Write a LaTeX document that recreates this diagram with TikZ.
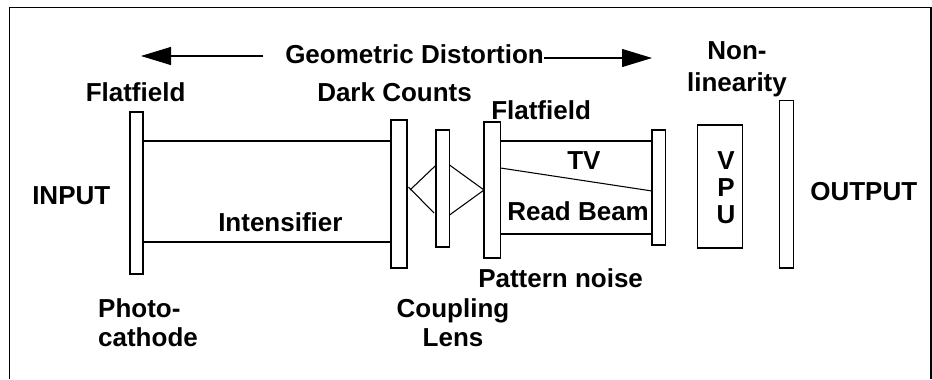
\documentclass[tikz,border=0pt]{standalone}
\usepackage{fontspec}
\setmainfont{Liberation Sans}
\usetikzlibrary{positioning, arrows.meta}
\tikzset{
  plate/.style={draw, line width=1.1pt, outer sep=0pt, inner sep=0pt, minimum width=#1},
  label/.style={font=\bfseries\fontsize{19.5}{21.75}\selectfont, inner sep=0pt, anchor=base west},
  stack/.style={font=\bfseries\fontsize{19.5}{21.75}\selectfont, inner sep=0pt, align=center},
  wall/.style={line width=1.1pt},
  ray/.style={line width=0.8pt},
  bigarrow/.style={line width=0.8pt, -{Triangle[length=22.5pt, width=13.5pt]}}
}
\begin{document}
\begin{tikzpicture}[x=0.75pt, y=-0.75pt]
\useasboundingbox (0,0) rectangle (932,379);
\draw[line width=0.9pt] (9.5,379) -- (9.5,7.5) -- (931,7.5) -- (931,379);
% plates, left to right
\node(cathode)[plate=10pt, minimum height=121.5pt] at (136.5,193){};
\node(dark)[plate=12pt, minimum height=111pt, right = 186pt of cathode, yshift=-0.75pt]{};
\node(lens)[plate=10pt, minimum height=87.75pt, right = 21.75pt of dark, yshift=4.1pt]{};
\node(flat)[plate=12.4pt, minimum height=102pt, right = 25.9pt of lens, yshift=-1.1pt]{};
\node(tvend)[plate=10pt, minimum height=86.25pt, right = 113.6pt of flat, yshift=1.9pt]{};
\node(vpu)[plate=34pt, minimum height=92.25pt, right = 24pt of tvend, yshift=0.75pt]{};
\node(output)[plate=10.4pt, minimum height=125.6pt, right = 27.75pt of vpu, yshift=1.7pt]{};
% tube walls
\coordinate(wallup) at (0,141);
\coordinate(walldown) at (0,242);
\coordinate(tvdown) at (0,234);
\draw[wall] (cathode.east |- wallup) -- (dark.west |- wallup);
\draw[wall] (cathode.east |- walldown) -- (dark.west |- walldown);
\draw[wall] (flat.east |- wallup) -- (tvend.west |- wallup);
\draw[wall] (flat.east |- tvdown) -- (tvend.west |- tvdown);
\coordinate(slantl) at (0,168);
\coordinate(slantr) at (0,191);
\draw[ray] (flat.east |- slantl) -- (tvend.west |- slantr);
% lens rays
\coordinate(apex) at (410,190);
\coordinate(rayin) at (408.5,187);
\coordinate(rayout) at (434,213);
\coordinate(rayup) at (0,165);
\coordinate(raydown) at (0,215);
\draw[ray] (lens.west |- rayup) -- (apex);
\draw[ray] (rayin) -- (rayout);
\draw[ray] (lens.east |- rayup) -- (flat.west) -- (lens.east |- raydown);
% labels
\node(geo)[label] at (285,63.5){Geometric Distortion};
\node(flat1)[label] at (85.5,101){Flatfield};
\node(counts)[label] at (317,101){Dark Counts};
\node(flat2)[label] at (491,119.7){Flatfield};
\node(input)[label] at (32,204.5){INPUT};
\node(intens)[label] at (218,231.7){Intensifier};
\node(tv)[label] at (567,169.5){TV};
\node(beam)[label] at (507,220){Read Beam};
\node(noise)[label] at (478,287){Pattern noise};
\node(out)[label] at (810,200){OUTPUT};
\node(photo)[stack, align=left] at (148,323){Photo-\\cathode};
\node(coupling)[stack] at (453,323){Coupling\\Lens};
\node(nonlin)[stack] at (737,69.5){Non-\\[2.25pt]linearity};
\node(vputext)[stack] at (726,188){V\\[-1.5pt]P\\[-1.5pt]U};
% distortion arrows
\coordinate(arrowl) at (141,56);
\coordinate(startl) at (263,56);
\coordinate(arrowr) at (652,58);
\draw[bigarrow] (startl) -- (arrowl);
\draw[bigarrow] (geo.east |- arrowr) -- (arrowr);
\end{tikzpicture}
\end{document}
